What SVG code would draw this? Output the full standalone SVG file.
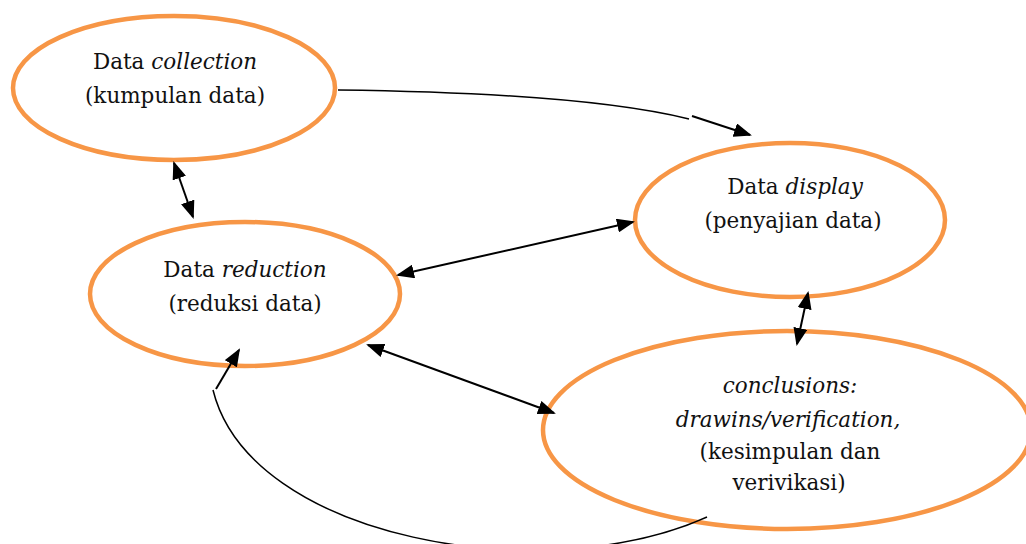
<svg xmlns="http://www.w3.org/2000/svg" width="1026" height="544" viewBox="0 0 1026 544">
<style>
.node{fill:#fff;stroke:#F79646;stroke-width:4.5}
.t{font-family:"DejaVu Serif","Liberation Serif",serif;font-size:21.5px;fill:#111;text-anchor:middle}
.i{font-style:italic}
.c{fill:none;stroke:#000;stroke-width:2}
.thin{fill:none;stroke:#000;stroke-width:1.5}
</style>
<defs>
<marker id="ah" markerUnits="userSpaceOnUse" markerWidth="18" markerHeight="14" refX="16" refY="7" orient="auto-start-reverse" viewBox="0 0 18 14">
<path d="M0,0 L18,7 L0,14 Z" fill="#000"/>
</marker>
</defs>
<rect width="1026" height="544" fill="#fff"/>
<g id="n1">
<ellipse class="node" cx="174" cy="88" rx="161" ry="72"/>
<text class="t" x="175" y="69">Data <tspan class="i">collection</tspan></text>
<text class="t" x="175" y="103">(kumpulan data)</text>
</g>
<g id="n2">
<ellipse class="node" cx="245" cy="294" rx="155" ry="72"/>
<text class="t" x="245" y="277">Data <tspan class="i">reduction</tspan></text>
<text class="t" x="245" y="311">(reduksi data)</text>
</g>
<g id="n3">
<ellipse class="node" cx="790" cy="220" rx="155" ry="77"/>
<text class="t" x="795" y="194">Data <tspan class="i">display</tspan></text>
<text class="t" x="793" y="228">(penyajian data)</text>
</g>
<g id="n4">
<ellipse class="node" cx="787" cy="430" rx="244" ry="99"/>
<text class="t i" x="790" y="393">conclusions:</text>
<text class="t i" x="788" y="427">drawins/verification,</text>
<text class="t" x="790" y="459">(kesimpulan dan</text>
<text class="t" x="789" y="490">verivikasi)</text>
</g>
<g id="connectors">
<path class="thin" d="M338,90 C500,92 620,102 689,119"/>
<path class="c" d="M692,116 L750,135" marker-end="url(#ah)"/>
<path class="c" d="M174,163 L193,217" marker-start="url(#ah)" marker-end="url(#ah)"/>
<path class="c" d="M398,275 L633,222" marker-start="url(#ah)" marker-end="url(#ah)"/>
<path class="c" d="M368,345 L554,413" marker-start="url(#ah)" marker-end="url(#ah)"/>
<path class="c" d="M808,293 L797,344" marker-start="url(#ah)" marker-end="url(#ah)"/>
<path class="thin" d="M213,390 C250,540 545,590 707,517"/>
<path class="c" d="M216,389 L239,350" marker-end="url(#ah)"/>
</g>
</svg>
